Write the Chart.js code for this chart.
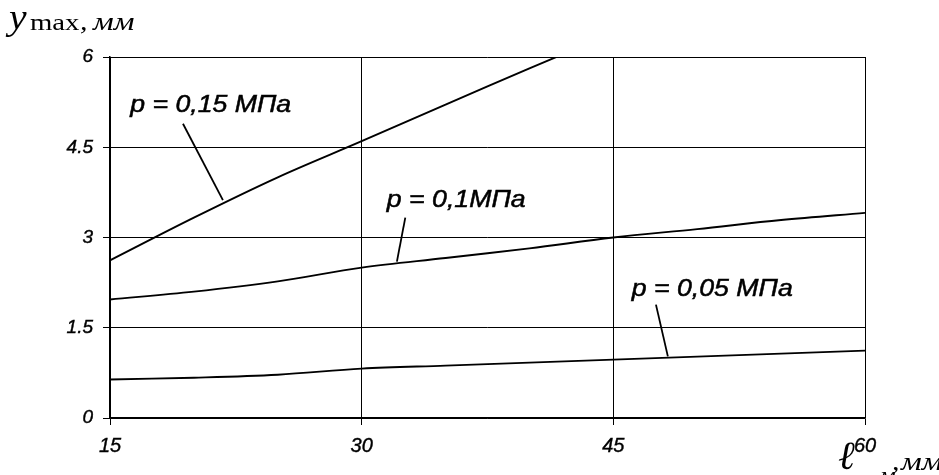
<!DOCTYPE html>
<html><head><meta charset="utf-8">
<script src="https://cdn.jsdelivr.net/npm/chart.js@4/dist/chart.umd.min.js"></script>
<style>html,body{margin:0;padding:0;background:#fff}#wrap{width:939px;height:475px;position:relative}</style>
</head><body><div id="wrap"><canvas id="c"></canvas></div>
<script>
const xValues = [15, 20, 25, 30, 35, 40, 45, 50, 55, 60];
const p015 = [2.62, 3.33, 4.0, 4.6, 5.21, 5.81, 6.4, null, null, null];
const p010 = [1.97, 2.1, 2.27, 2.5, 2.66, 2.82, 3.0, 3.14, 3.29, 3.41];
const p005 = [0.64, 0.67, 0.72, 0.82, 0.87, 0.92, 0.97, 1.02, 1.07, 1.12];
const xTicks = [15, 30, 45, 60];
const yTicks = [0, 1.5, 3, 4.5, 6];
const labels = [
  {text: 'p = 0,15 МПа', tx: 16.2, ty: 5.09, lx1: 19.35, ly1: 4.89, lx2: 21.73, ly2: 3.62},
  {text: 'p = 0,1МПа', tx: 31.5, ty: 3.51, lx1: 32.6, ly1: 3.33, lx2: 32.1, ly2: 2.6},
  {text: 'p = 0,05 МПа', tx: 46.1, ty: 2.02, lx1: 47.54, ly1: 1.885, lx2: 48.25, ly2: 1.025}
];
const toPts = arr => xValues.map((x, i) => ({x, y: arr[i]})).filter(p => p.y !== null);
const ds = (arr) => ({data: toPts(arr), borderColor: '#000', borderWidth: 1.9, pointRadius: 0, tension: 0.35, fill: false});

function stretchText(ctx, text, x, y, font, sx, sw) {
  ctx.save();
  ctx.font = font;
  ctx.translate(x, y);
  ctx.scale(sx, 1);
  ctx.fillText(text, 0, 0);
  if (sw) { ctx.lineWidth = sw; ctx.strokeText(text, 0, 0); }
  ctx.restore();
}

const annot = {
  id: 'annot',
  afterDraw(chart) {
    const {ctx, scales: {x, y}} = chart;
    ctx.save();
    ctx.fillStyle = '#000'; ctx.strokeStyle = '#000'; ctx.lineWidth = 1.8;
    ctx.textBaseline = 'alphabetic'; ctx.textAlign = 'left';
    const lf = 'italic 23px "Liberation Sans", Arial, sans-serif';
    labels.forEach(l => {
      stretchText(ctx, l.text, x.getPixelForValue(l.tx), y.getPixelForValue(l.ty), lf, 1.16, 0.5);
      ctx.beginPath();
      ctx.moveTo(x.getPixelForValue(l.lx1), y.getPixelForValue(l.ly1));
      ctx.lineTo(x.getPixelForValue(l.lx2), y.getPixelForValue(l.ly2));
      ctx.stroke();
    });
    // y-axis title
    const serif = '"Liberation Serif", "Times New Roman", serif';
    stretchText(ctx, 'y', 9, 29, 'italic 36px ' + serif, 1.1);
    stretchText(ctx, 'max', 30, 30, '23px ' + serif, 1.25);
    stretchText(ctx, ',', 80, 30, 'italic 25px ' + serif, 1.2);
    stretchText(ctx, 'мм', 93, 30, 'italic 26px ' + serif, 1.25);
    // x-axis title
    stretchText(ctx, 'ℓ', 838, 469, 'italic 40px ' + serif, 1.0);
    stretchText(ctx, 'м', 879, 482, 'italic 22px ' + serif, 1.2);
    stretchText(ctx, ',', 892, 470, 'italic 25px ' + serif, 1.2);
    stretchText(ctx, 'мм', 901, 470, 'italic 26px ' + serif, 1.25);
    ctx.restore();
  }
};

const tickFont = size => ({family: '"Liberation Sans", Arial, sans-serif', size, style: 'italic'});

new Chart(document.getElementById('c'), {
  type: 'line',
  data: {datasets: [ds(p015), ds(p010), ds(p005)]},
  options: {
    responsive: true, maintainAspectRatio: false, animation: false,
    layout: {padding: {left: 0, top: 57, right: 74, bottom: 0}},
    plugins: {legend: {display: false}, tooltip: {enabled: false}},
    scales: {
      x: {
        type: 'linear', min: 15, max: 60,
        afterBuildTicks: s => { s.ticks = xTicks.map(v => ({value: v})); },
        afterFit: s => { s.height = 57; },
        grid: {color: '#000', lineWidth: 1, tickLength: 7, drawTicks: true},
        border: {color: '#000', width: 1.5},
        ticks: {color: '#000', padding: 9, maxRotation: 0, font: tickFont(20), textStrokeColor: '#000', textStrokeWidth: 0.4}
      },
      y: {
        min: 0, max: 6,
        afterBuildTicks: s => { s.ticks = yTicks.map(v => ({value: v})); },
        afterFit: s => { s.width = 110; },
        grid: {color: '#000', lineWidth: 1, tickLength: 7, drawTicks: true},
        border: {color: '#000', width: 1.5},
        ticks: {color: '#000', padding: 10, font: tickFont(19), textStrokeColor: '#000', textStrokeWidth: 0.4}
      }
    }
  },
  plugins: [annot]
});
</script></body></html>
